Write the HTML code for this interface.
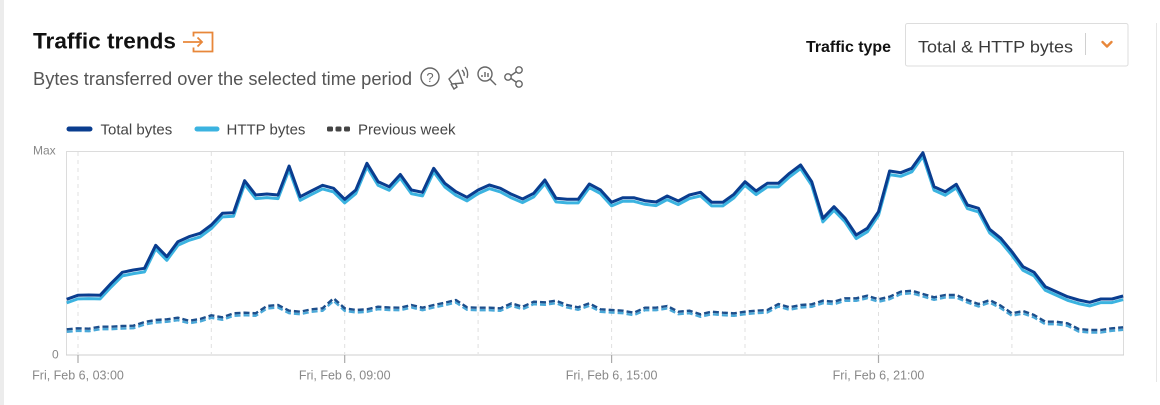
<!DOCTYPE html>
<html>
<head>
<meta charset="utf-8">
<style>
  html,body{margin:0;padding:0;background:#fff;}
  body{width:1160px;height:405px;overflow:hidden;position:relative;}
  svg{position:absolute;left:0;top:0;}
  text{font-family:"Liberation Sans",Arial,sans-serif;}
</style>
</head>
<body>
<svg width="1160" height="405" viewBox="0 0 1160 405" xmlns="http://www.w3.org/2000/svg">
  <!-- page frame -->
  <rect x="0" y="0" width="4" height="405" fill="#ececec"/>
  <line x1="1156.5" y1="23" x2="1156.5" y2="382" stroke="#e6e6e6" stroke-width="1"/>

  <!-- title -->
  <text x="33" y="48.5" font-size="22.5" font-weight="bold" fill="#111" textLength="143" lengthAdjust="spacingAndGlyphs">Traffic trends</text>
  <g fill="none" stroke="#e8873a" stroke-width="1.8">
    <path d="M193.5 36.5 V32.5 H212.5 V51.5 H193.5 V47.5"/>
    <path d="M183 42 H202"/>
    <path d="M197.5 37.5 L202 42 L197.5 46.5"/>
  </g>

  <!-- subtitle -->
  <text x="33" y="85" font-size="18" fill="#555" textLength="379" lengthAdjust="spacingAndGlyphs">Bytes transferred over the selected time period</text>
  <!-- icons -->
  <g fill="none" stroke="#666" stroke-width="1.4">
    <circle cx="430" cy="77" r="9"/>
    <!-- megaphone -->
    <path d="M449 79 L458 70 L463 83 L452 84 Z"/>
    <path d="M451 84 L454 89 L457 87 L455 83"/>
    <path d="M462 70 Q465 73 464 76"/>
    <path d="M465 67 Q469 72 467 78"/>
    <!-- magnifier -->
    <circle cx="485" cy="74" r="7"/>
    <path d="M490 79 L496 85"/>
    <path d="M482 77 V75 M485 77 V72 M488 77 V73"/>
    <!-- share -->
    <circle cx="519" cy="70" r="3.2"/>
    <circle cx="508" cy="77" r="3.2"/>
    <circle cx="519" cy="84" r="3.2"/>
    <path d="M511 75.5 L516 72 M511 78.5 L516 82"/>
  </g>
  <text x="430" y="82" font-size="13" fill="#666" text-anchor="middle">?</text>

  <!-- traffic type control -->
  <text x="891" y="52" font-size="15.5" font-weight="bold" fill="#111" text-anchor="end" textLength="85" lengthAdjust="spacingAndGlyphs">Traffic type</text>
  <rect x="905.5" y="23.5" width="222.5" height="42.5" rx="2" fill="#fff" stroke="#ddd" stroke-width="1"/>
  <text x="918" y="52.5" font-size="17" fill="#3a3a3a" textLength="155" lengthAdjust="spacingAndGlyphs">Total &amp; HTTP bytes</text>
  <line x1="1085.5" y1="33" x2="1085.5" y2="55" stroke="#d0d0d0" stroke-width="1"/>
  <polyline points="1102.5,42 1107,46.5 1111.5,42" fill="none" stroke="#e8873a" stroke-width="2.4" stroke-linecap="round" stroke-linejoin="round"/>

  <!-- legend -->
  <line x1="69" y1="129" x2="90" y2="129" stroke="#0a3d8f" stroke-width="5" stroke-linecap="round"/>
  <text x="100.5" y="134.5" font-size="15" fill="#444">Total bytes</text>
  <line x1="197" y1="129" x2="217" y2="129" stroke="#3bb3e0" stroke-width="5" stroke-linecap="round"/>
  <text x="226.5" y="134.5" font-size="15" fill="#444">HTTP bytes</text>
  <g fill="#444">
    <rect x="327" y="126.5" width="6" height="5" rx="1.5"/>
    <rect x="335.5" y="126.5" width="6" height="5" rx="1.5"/>
    <rect x="344" y="126.5" width="6" height="5" rx="1.5"/>
  </g>
  <text x="358" y="134.5" font-size="15" fill="#444">Previous week</text>

  <!-- plot frame -->
  <rect x="66.5" y="151.5" width="1057" height="203.5" fill="#fff" stroke="#dcdcdc" stroke-width="1"/>
  <g stroke="#e0e0e0" stroke-width="1" stroke-dasharray="4 4">
    <line x1="78" y1="152" x2="78" y2="354"/>
    <line x1="211.3" y1="152" x2="211.3" y2="354"/>
    <line x1="344.7" y1="152" x2="344.7" y2="354"/>
    <line x1="478.1" y1="152" x2="478.1" y2="354"/>
    <line x1="611.6" y1="152" x2="611.6" y2="354"/>
    <line x1="745" y1="152" x2="745" y2="354"/>
    <line x1="878.5" y1="152" x2="878.5" y2="354"/>
    <line x1="1011.9" y1="152" x2="1011.9" y2="354"/>
  </g>
  <line x1="66" y1="355" x2="1124" y2="355" stroke="#cfcfcf" stroke-width="1"/>
  <g stroke="#aaa" stroke-width="1.2">
    <line x1="78" y1="355" x2="78" y2="363"/>
    <line x1="344.7" y1="355" x2="344.7" y2="363"/>
    <line x1="611.6" y1="355" x2="611.6" y2="363"/>
    <line x1="878.5" y1="355" x2="878.5" y2="363"/>
  </g>

  <!-- axis labels -->
  <text x="33" y="154.5" font-size="12" fill="#888">Max</text>
  <text x="52" y="358.5" font-size="12" fill="#888">0</text>
  <g font-size="12.5" fill="#888" text-anchor="middle">
    <text x="78" y="379.5">Fri, Feb 6, 03:00</text>
    <text x="344.7" y="379.5">Fri, Feb 6, 09:00</text>
    <text x="611.6" y="379.5">Fri, Feb 6, 15:00</text>
    <text x="878.5" y="379.5">Fri, Feb 6, 21:00</text>
  </g>

  <!-- previous week dashed -->
  <polyline id="pw" transform="translate(0,2.5)" fill="none" stroke="#4aa8d8" stroke-width="2.4" stroke-dasharray="6 3" stroke-linejoin="round"
    points="66.7,329.3 77.8,328.3 88.9,328.7 100.1,326.7 111.2,326.7 122.3,326 133.4,325.7 144.5,322 155.7,320 166.8,319.3 177.9,317.7 189,320.7 200.1,319 211.3,315.3 222.4,317.3 233.5,313.3 244.6,312.7 255.7,313.3 266.9,306 278,305 289.1,310.7 300.2,311.7 311.3,309.3 322.5,308.3 333.6,298.3 344.7,308.3 355.8,310 366.9,309.3 378.1,306.7 389.2,307.5 400.3,307.7 411.4,305 422.5,307.7 433.7,305 444.8,302.7 455.9,300 467,307.3 478.1,307.7 489.3,307.7 500.4,308.3 511.5,303.3 522.6,306.7 533.7,301.7 544.9,302.3 556,300.7 567.1,305 578.2,307.3 589.3,303.3 600.5,309.3 611.6,310 622.7,310.7 633.8,312.7 644.9,307.7 656.1,307.7 667.2,306 678.3,311.7 689.4,310.7 700.5,314.3 711.7,311.7 722.8,312.7 733.9,313.3 745,311.7 756.1,310.7 767.3,310 778.4,304 789.5,307.3 800.6,305 811.7,304.3 822.9,300.7 834,301.7 845.1,298.3 856.2,298.3 867.3,295.7 878.5,299.3 889.6,296.7 900.7,291.7 911.8,290.7 923,294 934.1,297.3 945.2,295 956.3,295 967.4,300 978.5,304 989.7,300 1000.8,305.7 1011.9,313.3 1023,311 1034.1,315 1045.3,321.7 1056.4,321.7 1067.5,323.3 1078.6,329 1089.7,330 1100.9,330 1112,328.3 1123.1,327.3"/>
  <polyline fill="none" stroke="#1d4f8c" stroke-width="2.4" stroke-dasharray="6 3" stroke-linejoin="round"
    points="66.7,329.3 77.8,328.3 88.9,328.7 100.1,326.7 111.2,326.7 122.3,326 133.4,325.7 144.5,322 155.7,320 166.8,319.3 177.9,317.7 189,320.7 200.1,319 211.3,315.3 222.4,317.3 233.5,313.3 244.6,312.7 255.7,313.3 266.9,306 278,305 289.1,310.7 300.2,311.7 311.3,309.3 322.5,308.3 333.6,298.3 344.7,308.3 355.8,310 366.9,309.3 378.1,306.7 389.2,307.5 400.3,307.7 411.4,305 422.5,307.7 433.7,305 444.8,302.7 455.9,300 467,307.3 478.1,307.7 489.3,307.7 500.4,308.3 511.5,303.3 522.6,306.7 533.7,301.7 544.9,302.3 556,300.7 567.1,305 578.2,307.3 589.3,303.3 600.5,309.3 611.6,310 622.7,310.7 633.8,312.7 644.9,307.7 656.1,307.7 667.2,306 678.3,311.7 689.4,310.7 700.5,314.3 711.7,311.7 722.8,312.7 733.9,313.3 745,311.7 756.1,310.7 767.3,310 778.4,304 789.5,307.3 800.6,305 811.7,304.3 822.9,300.7 834,301.7 845.1,298.3 856.2,298.3 867.3,295.7 878.5,299.3 889.6,296.7 900.7,291.7 911.8,290.7 923,294 934.1,297.3 945.2,295 956.3,295 967.4,300 978.5,304 989.7,300 1000.8,305.7 1011.9,313.3 1023,311 1034.1,315 1045.3,321.7 1056.4,321.7 1067.5,323.3 1078.6,329 1089.7,330 1100.9,330 1112,328.3 1123.1,327.3"/>

  <!-- HTTP bytes (light) -->
  <polyline transform="translate(0,3.6)" fill="none" stroke="#3bb3e0" stroke-width="3" stroke-linejoin="round"
    points="66.7,299.3 77.8,295.3 88.9,295 100.1,295.3 111.2,283.3 122.3,272.3 133.4,270 144.5,268.3 155.7,245.3 166.8,256.7 177.9,241.7 189,236.7 200.1,233.3 211.3,225 222.4,213.3 233.5,212.7 244.6,180.7 255.7,195 266.9,194 278,195 289.1,166 300.2,196.7 311.3,191 322.5,185.3 333.6,188.3 344.7,199.3 355.8,190 366.9,163.3 378.1,181.7 389.2,186.7 400.3,174.5 411.4,190 422.5,192.3 433.7,168.3 444.8,183.3 455.9,191.7 467,197.3 478.1,190 489.3,185 500.4,188.3 511.5,194.3 522.6,199 533.7,193.3 544.9,180 556,198.3 567.1,199.3 578.2,199.3 589.3,184 600.5,190 611.6,202.3 622.7,197.7 633.8,197.7 644.9,200.7 656.1,202 667.2,196 678.3,201 689.4,195 700.5,192.3 711.7,202.3 722.8,202.3 733.9,194.3 745,181.7 756.1,191 767.3,183.3 778.4,183.3 789.5,173.3 800.6,165 811.7,181.7 822.9,218.3 834,206.7 845.1,218.3 856.2,235 867.3,228.3 878.5,211.7 889.6,171 900.7,172.7 911.8,168.3 922.9,152.7 934.1,186.7 945.2,191.7 956.3,184.3 967.4,205 978.5,208.3 989.7,229.3 1000.8,238.3 1011.9,251.7 1023,266.7 1034.1,272.3 1045.3,286.7 1056.4,291.7 1067.5,296.7 1078.6,300 1089.7,302.3 1100.9,299 1112,299 1123.1,296"/>
  <!-- Total bytes (dark) -->
  <polyline fill="none" stroke="#0a3d8f" stroke-width="3" stroke-linejoin="round"
    points="66.7,299.3 77.8,295.3 88.9,295 100.1,295.3 111.2,283.3 122.3,272.3 133.4,270 144.5,268.3 155.7,245.3 166.8,256.7 177.9,241.7 189,236.7 200.1,233.3 211.3,225 222.4,213.3 233.5,212.7 244.6,180.7 255.7,195 266.9,194 278,195 289.1,166 300.2,196.7 311.3,191 322.5,185.3 333.6,188.3 344.7,199.3 355.8,190 366.9,163.3 378.1,181.7 389.2,186.7 400.3,174.5 411.4,190 422.5,192.3 433.7,168.3 444.8,183.3 455.9,191.7 467,197.3 478.1,190 489.3,185 500.4,188.3 511.5,194.3 522.6,199 533.7,193.3 544.9,180 556,198.3 567.1,199.3 578.2,199.3 589.3,184 600.5,190 611.6,202.3 622.7,197.7 633.8,197.7 644.9,200.7 656.1,202 667.2,196 678.3,201 689.4,195 700.5,192.3 711.7,202.3 722.8,202.3 733.9,194.3 745,181.7 756.1,191 767.3,183.3 778.4,183.3 789.5,173.3 800.6,165 811.7,181.7 822.9,218.3 834,206.7 845.1,218.3 856.2,235 867.3,228.3 878.5,211.7 889.6,171 900.7,172.7 911.8,168.3 922.9,152.7 934.1,186.7 945.2,191.7 956.3,184.3 967.4,205 978.5,208.3 989.7,229.3 1000.8,238.3 1011.9,251.7 1023,266.7 1034.1,272.3 1045.3,286.7 1056.4,291.7 1067.5,296.7 1078.6,300 1089.7,302.3 1100.9,299 1112,299 1123.1,296"/>
</svg>
</body>
</html>
